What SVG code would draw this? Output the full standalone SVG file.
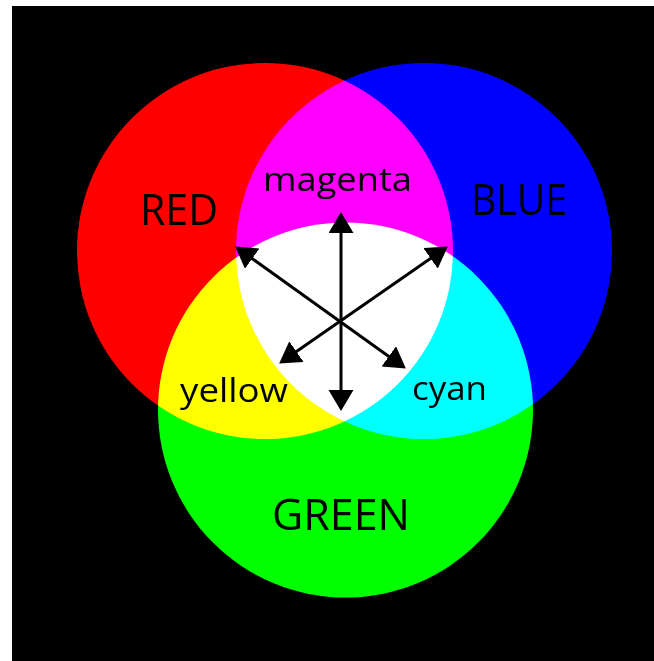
<svg xmlns="http://www.w3.org/2000/svg" width="654" height="661" viewBox="0 0 654 661">
  <style>
    .circ { mix-blend-mode: screen; }
    .lbl { font-family: "Open Sans", "Liberation Sans", sans-serif; fill: #000; }
    .big { font-size: 44px; }
    .small { font-size: 33px; }
    .arr { stroke: #000; stroke-width: 3; fill: none; marker-start: url(#ah); marker-end: url(#ah); }
  </style>
  <defs>
    <marker id="ah" markerUnits="userSpaceOnUse" markerWidth="22" markerHeight="26" refX="10" refY="12.5" orient="auto-start-reverse" viewBox="0 0 22 26">
      <path d="M0,0 L21,12.5 L0,25 Z" fill="#000"/>
    </marker>
  </defs>
  <rect x="0" y="0" width="654" height="661" fill="#fff"/>
  <rect x="12" y="6" width="642" height="655" fill="#000"/>
  <g style="isolation:isolate">
    <g id="red"><circle class="circ" cx="265" cy="251" r="188" fill="#ff0000"/></g>
    <g id="blue"><circle class="circ" cx="424" cy="251" r="188" fill="#0000ff"/></g>
    <g id="green"><circle class="circ" cx="345.5" cy="410" r="187.5" fill="#00ff00"/></g>
  </g>
  <g id="labels">
    <text class="lbl big" x="140" y="225" textLength="78" lengthAdjust="spacingAndGlyphs">RED</text>
    <text class="lbl big" x="471" y="215" textLength="96" lengthAdjust="spacingAndGlyphs">BLUE</text>
    <text class="lbl big" x="272" y="530" textLength="138" lengthAdjust="spacingAndGlyphs">GREEN</text>
    <text class="lbl small" x="263" y="191" textLength="149" lengthAdjust="spacingAndGlyphs">magenta</text>
    <text class="lbl small" x="180" y="402" textLength="108" lengthAdjust="spacingAndGlyphs">yellow</text>
    <text class="lbl small" x="412" y="400" textLength="75" lengthAdjust="spacingAndGlyphs">cyan</text>
  </g>
  <g id="connectors">
    <line class="arr" x1="341" y1="223" x2="341" y2="400"/>
    <line class="arr" x1="244.1" y1="252.8" x2="396.9" y2="362.2"/>
    <line class="arr" x1="438.8" y1="252.7" x2="288.2" y2="357.3"/>
  </g>
</svg>
